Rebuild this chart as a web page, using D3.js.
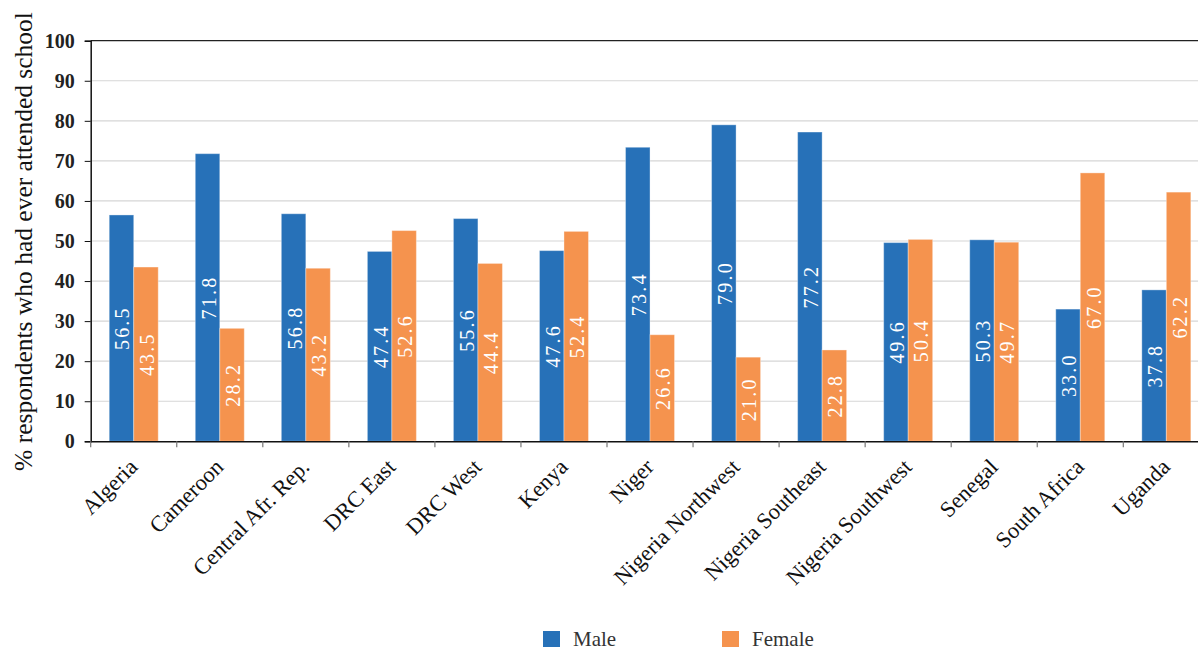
<!DOCTYPE html>
<html>
<head>
<meta charset="utf-8">
<script src="https://cdn.jsdelivr.net/npm/d3@7"></script>
<style>
  html, body { margin: 0; padding: 0; background: #fff; }
  svg { display: block; }
  text { font-family: "Liberation Serif", "Times New Roman", serif; }
</style>
</head>
<body>
<svg id="chart" width="1198" height="650"></svg>
<script>
// Share of respondents who had ever attended school, by sex
const categories = ["Algeria", "Cameroon", "Central Afr. Rep.", "DRC East", "DRC West", "Kenya",
  "Niger", "Nigeria Northwest", "Nigeria Southeast", "Nigeria Southwest", "Senegal", "South Africa", "Uganda"];
const maleValues   = [56.5, 71.8, 56.8, 47.4, 55.6, 47.6, 73.4, 79.0, 77.2, 49.6, 50.3, 33.0, 37.8];
const femaleValues = [43.5, 28.2, 43.2, 52.6, 44.4, 52.4, 26.6, 21.0, 22.8, 50.4, 49.7, 67.0, 62.2];
const seriesNames  = ["Male", "Female"];
const yTicks = [0, 10, 20, 30, 40, 50, 60, 70, 80, 90, 100];

const colors = { Male: "#2771b8", Female: "#f5934e" };
const serif = "'Liberation Serif', 'Times New Roman', serif";

const svg = d3.select("#chart");
const plotLeft = 90.7, plotTop = 40.7, plotBottom = 441.3;
const step = 86.05;
const plotRight = plotLeft + step * categories.length;

const x = d3.scaleBand().domain(categories).range([plotLeft, plotRight]).paddingInner(0).paddingOuter(0);
const xs = d3.scaleBand().domain(seriesNames).range([0, x.bandwidth()]).paddingInner(0).paddingOuter(0.756);
const y = d3.scaleLinear().domain([0, 100]).range([plotBottom, plotTop]);

// gridlines
svg.append("g")
  .selectAll("line")
  .data(yTicks.filter(t => t > 0 && t < 100))
  .join("line")
  .attr("x1", plotLeft).attr("x2", plotRight)
  .attr("y1", d => y(d)).attr("y2", d => y(d))
  .attr("stroke", "#d6d6d6").attr("stroke-width", 1.2);

// top frame line
svg.append("line")
  .attr("x1", plotLeft).attr("x2", plotRight)
  .attr("y1", y(100)).attr("y2", y(100))
  .attr("stroke", "#222").attr("stroke-width", 1.2);

// bars
const rows = categories.map((c, i) => ({ cat: c, Male: maleValues[i], Female: femaleValues[i] }));
const groups = svg.append("g").selectAll("g")
  .data(rows).join("g")
  .attr("transform", d => `translate(${x(d.cat)},0)`);

const bars = groups.selectAll("g.bar")
  .data(d => seriesNames.map(s => ({ s, v: d[s] })))
  .join("g").attr("class", "bar");

bars.append("rect")
  .attr("x", d => xs(d.s))
  .attr("width", xs.bandwidth())
  .attr("y", d => y(d.v))
  .attr("height", d => y(0) - y(d.v))
  .attr("fill", d => colors[d.s])
  .attr("stroke", "rgba(255,255,255,0.35)")
  .attr("stroke-width", 1);

// value labels, centred inside each bar
bars.append("text")
  .attr("transform", d => `translate(${xs(d.s) + xs.bandwidth() / 2 + 1},${(y(d.v) + y(0)) / 2}) rotate(-90)`)
  .attr("text-anchor", "middle")
  .attr("dy", "0.35em")
  .attr("fill", "#fff")
  .style("font-family", serif)
  .attr("font-size", 20)
  .attr("letter-spacing", 2.2)
  .text(d => d3.format(".1f")(d.v));

// y axis
const yAxis = svg.append("g")
  .attr("transform", `translate(${plotLeft},0)`)
  .call(d3.axisLeft(y).tickValues(yTicks).tickSize(6).tickPadding(10).tickFormat(d3.format("d")));
yAxis.select(".domain").attr("stroke", "#111").attr("stroke-width", 1.5);
yAxis.selectAll(".tick line").attr("stroke", "#111");
yAxis.selectAll(".tick text")
  .style("font-family", serif)
  .attr("font-size", 20).attr("font-weight", "bold").attr("fill", "#222");

// x axis
const xAxis = svg.append("g")
  .attr("transform", `translate(0,${plotBottom})`)
  .call(d3.axisBottom(x).tickSize(0).tickFormat(""));
xAxis.select(".domain").attr("stroke", "#111").attr("stroke-width", 1.5);

// category boundary ticks
svg.append("g").selectAll("line")
  .data(categories)
  .join("line")
  .attr("x1", d => x(d)).attr("x2", d => x(d))
  .attr("y1", plotBottom).attr("y2", plotBottom + 6)
  .attr("stroke", "#777").attr("stroke-width", 1.2);

// category labels
svg.append("g").selectAll("text")
  .data(categories)
  .join("text")
  .attr("transform", d => `translate(${x(d) + x.bandwidth() / 2 + 5},${plotBottom + 27}) rotate(-45)`)
  .attr("text-anchor", "end")
  .style("font-family", serif)
  .attr("font-size", 22.5)
  .attr("fill", "#111")
  .text(d => d);

// y axis title
svg.append("text")
  .attr("transform", `translate(32,241.5) rotate(-90)`)
  .attr("text-anchor", "middle")
  .style("font-family", serif)
  .attr("font-size", 25.5)
  .attr("fill", "#111")
  .text("% respondents who had ever attended school");

// legend
const legend = svg.append("g").selectAll("g")
  .data(seriesNames)
  .join("g")
  .attr("transform", (d, i) => `translate(${543 + i * 179},631)`);
legend.append("rect")
  .attr("width", 17).attr("height", 16)
  .attr("fill", d => colors[d]);
legend.append("text")
  .attr("x", 30).attr("y", 14.5)
  .style("font-family", serif)
  .attr("font-size", 21)
  .attr("fill", "#333")
  .text(d => d);
</script>
</body>
</html>
